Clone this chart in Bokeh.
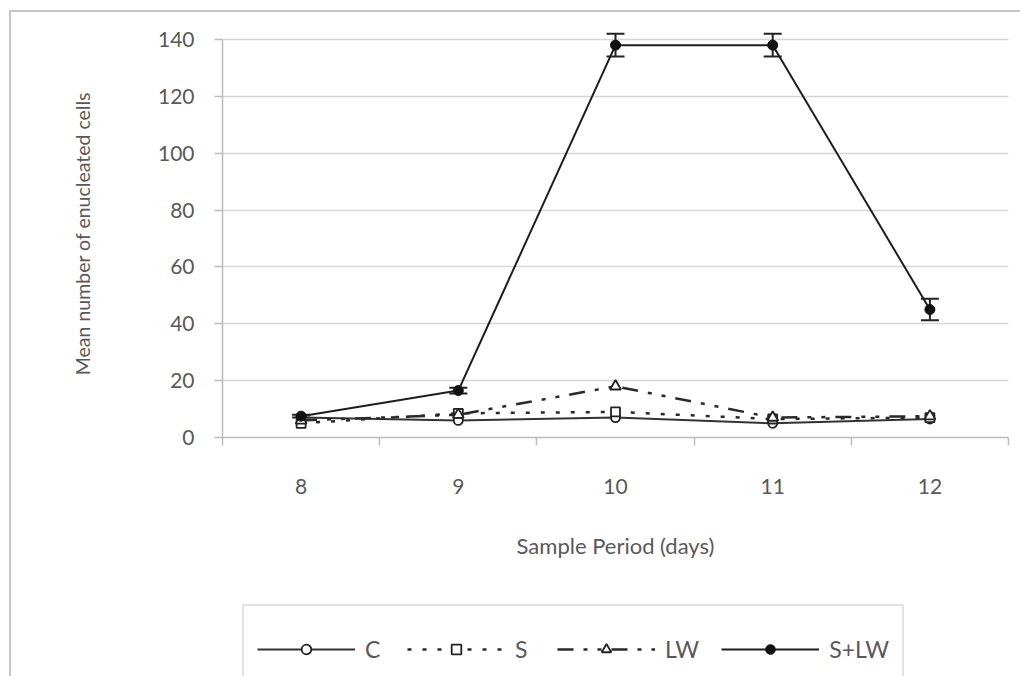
from bokeh.plotting import figure
from bokeh.layouts import column
from bokeh.models import (Legend, LegendItem, Whisker, ColumnDataSource, FixedTicker, TeeHead)
from bokeh.embed import file_html
from bokeh.resources import INLINE

days = [8, 9, 10, 11, 12]
c_vals = [7, 6, 7, 5, 6.5]
s_vals = [5, 8.5, 9, 6.5, 7]
lw_vals = [6, 8, 18, 7, 7.5]
slw_vals = [7.5, 16.5, 138, 138, 45]
slw_err = [0.5, 1, 4, 4, 3.8]
y_ticks = [0, 20, 40, 60, 80, 100, 120, 140]
series_names = ["C", "S", "LW", "S+LW"]

FONT = "Lato"
TXT = "#595959"
AX = "#bcbcbc"

STYLE = {
    "C": dict(line=dict(line_color="#333333", line_width=2),
              mark=dict(marker="circle", size=9, fill_color="white", line_color="#222222", line_width=1.8)),
    "S": dict(line=dict(line_color="#2a2a2a", line_width=2.5, line_dash="4 11"),
              mark=dict(marker="square", size=9, fill_color="white", line_color="#222222", line_width=1.8)),
    "LW": dict(line=dict(line_color="#2a2a2a", line_width=2.5, line_dash="16 10 4 10 4 10"),
               mark=dict(marker="triangle", size=11, fill_color="white", line_color="#222222", line_width=1.8)),
    "S+LW": dict(line=dict(line_color="#1e1e1e", line_width=2),
                 mark=dict(marker="circle", size=10, fill_color="#111111", line_color="#111111")),
}

src = ColumnDataSource(dict(x=days, C=c_vals, S=s_vals, LW=lw_vals, SLW=slw_vals,
                            up=[v + e for v, e in zip(slw_vals, slw_err)],
                            lo=[v - e for v, e in zip(slw_vals, slw_err)]))
cols = {"C": "C", "S": "S", "LW": "LW", "S+LW": "SLW"}

p = figure(width=1009, height=584, x_range=(7.5, 12.5), y_range=(0, 143.5),
           output_backend="svg", toolbar_location=None,
           min_border_left=211, min_border_right=12, min_border_top=17, min_border_bottom=159)
p.outline_line_color = None

p.xgrid.grid_line_color = None
p.ygrid.grid_line_color = "#d6d6d6"
p.ygrid.grid_line_width = 1.5
p.ygrid.ticker = FixedTicker(ticks=y_ticks)

p.xaxis.ticker = FixedTicker(ticks=days, minor_ticks=[7.5, 8.5, 9.5, 10.5, 11.5, 12.5])
p.xaxis.major_tick_line_color = None
p.xaxis.major_tick_out = 0
p.xaxis.major_tick_in = 0
p.xaxis.minor_tick_out = 8
p.xaxis.minor_tick_in = 0
p.xaxis.minor_tick_line_color = AX
p.xaxis.minor_tick_line_width = 1.5
p.xaxis.axis_line_color = AX
p.xaxis.axis_line_width = 1.5
p.xaxis.major_label_standoff = 33
p.xaxis.axis_label = "Sample Period (days)"
p.xaxis.axis_label_standoff = 35

p.yaxis.ticker = FixedTicker(ticks=y_ticks)
p.yaxis.bounds = (0, 140)
p.yaxis.minor_tick_line_color = None
p.yaxis.major_tick_out = 8
p.yaxis.major_tick_in = 0
p.yaxis.major_tick_line_color = AX
p.yaxis.major_tick_line_width = 1.5
p.yaxis.axis_line_color = AX
p.yaxis.axis_line_width = 1.5
p.yaxis.major_label_standoff = 20
p.yaxis.axis_label = "Mean number of enucleated cells"
p.yaxis.axis_label_standoff = 61

for ax in (p.xaxis, p.yaxis):
    ax.major_label_text_font = FONT
    ax.major_label_text_font_size = "21px"
    ax.major_label_text_color = TXT
    ax.axis_label_text_font = FONT
    ax.axis_label_text_font_style = "normal"
    ax.axis_label_text_color = TXT
p.xaxis.axis_label_text_font_size = "22px"
p.yaxis.axis_label_text_font_size = "19.5px"

for name in series_names:
    p.line("x", cols[name], source=src, **STYLE[name]["line"])
    p.scatter("x", cols[name], source=src, **STYLE[name]["mark"])

wh = Whisker(base="x", upper="up", lower="lo", source=src, line_color="#222222", line_width=2,
             upper_head=TeeHead(size=18, line_color="#222222", line_width=2),
             lower_head=TeeHead(size=18, line_color="#222222", line_width=2))
p.add_layout(wh)

# legend strip: same series, ranges chosen so only the legend shows; box runs past the bottom edge
lg = figure(width=1009, height=80, x_range=(0, 1), y_range=(0, 1),
            output_backend="svg", toolbar_location=None,
            x_axis_location=None, y_axis_location=None,
            min_border_left=0, min_border_right=0, min_border_top=0, min_border_bottom=0)
lg.outline_line_color = None
lg.xgrid.grid_line_color = None
lg.ygrid.grid_line_color = None
items = []
for name in series_names:
    r1 = lg.line("x", cols[name], source=src, **STYLE[name]["line"])
    r2 = lg.scatter("x", cols[name], source=src, **STYLE[name]["mark"])
    items.append(LegendItem(label=name, renderers=[r1, r2]))
legend = Legend(items=items, orientation="horizontal", location=(20, -2))
legend.title = " "
legend.title_text_font_size = "8px"
legend.title_standoff = 7
legend.glyph_width = 98
legend.glyph_height = 24
legend.label_height = 24
legend.label_width = 20
legend.label_standoff = 10
legend.spacing = 22
legend.padding = 13
legend.margin = 0
legend.label_text_font = FONT
legend.label_text_font_size = "23px"
legend.label_text_color = TXT
legend.border_line_color = "#c6c6c6"
legend.border_line_width = 2
legend.background_fill_alpha = 1
lg.add_layout(legend, "center")

layout = column(p, lg, spacing=0,
                styles={"margin-left": "9px", "margin-top": "10px",
                        "border-top": "2px solid #c6c6c6", "border-left": "2px solid #c6c6c6"})

open("out.html", "w").write(file_html(layout, INLINE))
